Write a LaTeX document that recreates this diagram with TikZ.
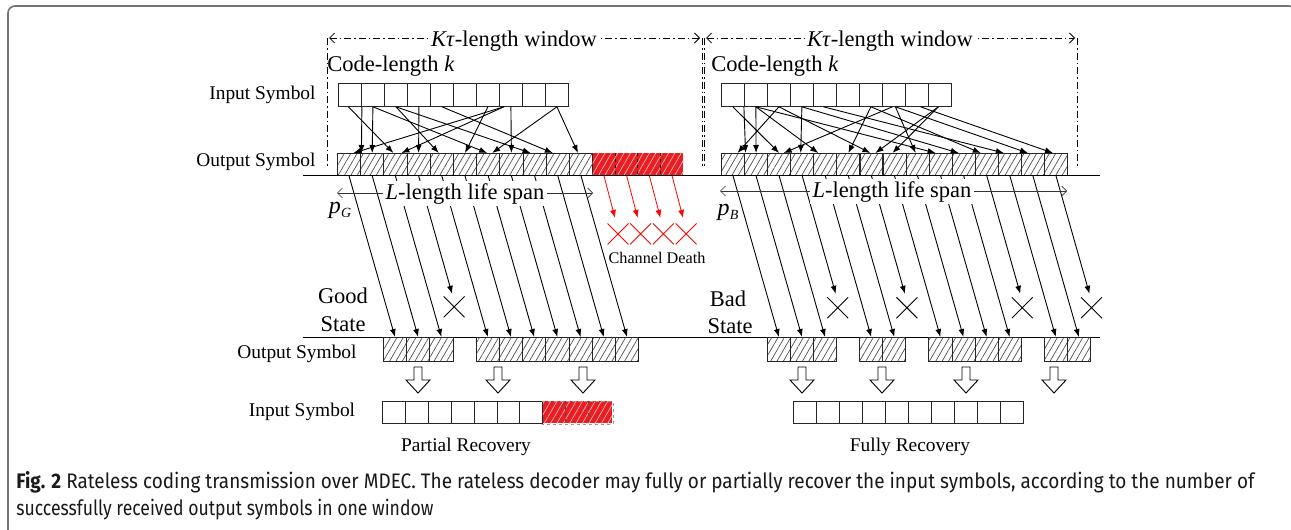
\documentclass[tikz,border=0pt]{standalone}
\usepackage{fontspec}
\setmainfont{Liberation Serif}
\newfontfamily\capfont{Fira Sans}
\usetikzlibrary{arrows.meta,patterns.meta,calc,shapes.misc}
\definecolor{redc}{RGB}{232,30,36}
\definecolor{hatchc}{RGB}{80,80,80}
\definecolor{framec}{RGB}{115,115,115}
\begin{document}
\begin{tikzpicture}[x=1pt,y=-1pt,line width=0.9pt,
  >={Latex[length=8pt,width=6pt]},
  lbl/.style={font=\fontsize{19.4}{22}\selectfont,inner sep=0},
  bigl/.style={font=\fontsize{22.5}{25}\selectfont,inner sep=0},
  capl/.style={anchor=base west,inner sep=0,text=black!90},
  insym/.style={draw=black!85,line width=0.8pt,minimum width=23pt,minimum height=23pt,inner sep=0,anchor=north west},
  outsym/.style={draw=black!85,line width=0.8pt,minimum width=23.2pt,minimum height=22pt,inner sep=0,anchor=north west,
     pattern={Lines[angle=60,distance=5.5pt,line width=0.7pt]},pattern color=hatchc},
  redsym/.style={fill=redc,minimum width=22.7pt,minimum height=22pt,inner sep=0,anchor=north west,
     postaction={pattern={Lines[angle=60,distance=5.5pt,line width=0.7pt]},pattern color=red!30!white}},
  xmark/.style={cross out,draw,line width=0.9pt,minimum size=20pt,inner sep=0},
  kwin/.style={line width=0.8pt,dash pattern=on 7pt off 3pt on 1.5pt off 3pt},
  barb/.style={{Straight Barb[length=5pt,width=10pt]}-{Straight Barb[length=5pt,width=10pt]}},
  hollow/.style={line width=0.9pt,fill=white}]
\useasboundingbox (0,0) rectangle (1291,530);
\fill[white] (0,0) rectangle (1291,530);
\draw[framec,line width=1.6pt,rounded corners=7pt] (8,535) -- (8,6) -- (1296,6) -- (1296,20);

% ---------- window frames ----------
\draw[kwin] (327,38) -- (327,168);
\draw[kwin] (702,38) -- (702,168);
\draw[kwin,barb] (329,38) -- (700,38);
\node[bigl,fill=white,inner sep=2pt,anchor=base] (ktl) at (514,46) {\textit{Kτ}-length window};
\draw[kwin] (704,38) -- (704,168);
\draw[kwin] (1077,38) -- (1077,168);
\draw[kwin,barb] (706,38) -- (1075,38);
\node[bigl,fill=white,inner sep=2pt,anchor=base] (ktr) at (890,46) {\textit{Kτ}-length window};
\node[bigl,anchor=base west] (cll) at (327,71) {Code-length \textit{k}};
\node[bigl,anchor=base west] (clr) at (711,71) {Code-length \textit{k}};

% ---------- labels left ----------
\node[lbl,anchor=base east] (il1) at (316,99) {Input Symbol};
\node[lbl,anchor=base east] (ol1) at (316,166) {Output Symbol};

% ---------- top boxes ----------
\foreach \i in {0,...,9} \node[insym] (inL\i) at ({338+23*\i},83) {};
\foreach \j in {0,...,10} \node[outsym] (outL\j) at ({337+23.2*\j},153) {};
\foreach \k in {0,...,3} \node[redsym] (redL\k) at ({592.2+22.7*\k},153) {};
\foreach \k in {1,2,3} \draw[dashed,line width=0.6pt] (redL\k.north west) -- (redL\k.south west);
\foreach \i in {0,...,9} \node[insym] (inR\i) at ({721+23*\i},83) {};
\foreach \j in {0,...,14} \node[outsym] (outR\j) at ({721+23.07*\j},153) {};

% ---------- encoding connections ----------
\foreach \a/\as/\b/\bs in {inL0/-1.5/outL2/-2, inL1/-11/outL1/-10.8, inL1/0/outL1/0, inL1/0/outL6/-1,
   inL2/0/outL4/-3, inL2/0/outL8/-4, inL3/0/outL3/0, inL4/0/outL9/-5, inL6/0/outL5/0,
   inL7/-7/outL0/4.5, inL7/-7/outL2/6, inL7/0/outL7/0, inL9/0/outL6/4, inL9/0/outL10/-3}
  \draw[->] ([xshift=\as pt]\a.south) -- ([xshift=\bs pt]\b.north);
\foreach \a/\as/\b/\bs in {inR0/0/outR2/0, inR1/-12/outR1/-10.5, inR1/0/outR1/0, inR1/0/outR9/-5,
   inR1/0/outR4/-7, inR2/0/outR0/4.5, inR2/0/outR6/-1, inR3/0/outR3/-1.5, inR3/0/outR10/-5,
   inR4/-1.5/outR12/-6, inR6/0/outR5/0, inR6/0/outR11/-6, inR7/-1.5/outR2/4.5, inR7/1.5/outR8/-2,
   inR7/1.5/outR13/-5, inR8/3.5/outR14/-3, inR9/-1.5/outR6/4, inR9/-1.5/outR7/-2}
  \draw[->] ([xshift=\as pt]\a.south) -- ([xshift=\bs pt]\b.north);

% ---------- channel lines ----------
\draw[line width=0.9pt] (303,175) -- (1100,175);
\draw[line width=0.9pt] (303,337) -- (1100,337);

% ---------- lower output boxes ----------
\foreach \j in {0,1,2,4,5,6,7,8,9,10} {
  \node[outsym,minimum height=24pt] (lowL\j) at ({383+23.2*\j},337) {};
  \draw[->] (outL\j.south) -- (lowL\j.north);
}
\foreach \j in {0,1,2,4,5,7,8,9,10,12,13} {
  \node[outsym,minimum width=23.07pt,minimum height=24pt] (lowR\j) at ({767+23.07*\j},337) {};
  \draw[->] (outR\j.south) -- (lowR\j.north);
}
\node[xmark] (xL3) at ($(outL3.south)+(35.5,131)$) {};
\draw[->] (outL3.south) -- ++(33.5,118);
\foreach \j in {3,6,11,14} {
  \node[xmark] (xR\j) at ($(outR\j.south)+(35.5,132)$) {};
  \draw[->] (outR\j.south) -- ++(33.5,118);
}
% red channel death
\foreach \k in {0,...,3} {
  \draw[->,red,line width=0.8pt] (redL\k.south) -- ++(11,42);
  \node[xmark,draw=red] (xd\k) at ($(redL\k.south)+(14,58)$) {};
}
\node[font=\fontsize{16.2}{18}\selectfont,inner sep=0,anchor=base] (cd) at (657,263) {Channel Death};

% ---------- life span ----------
\draw[barb,line width=0.7pt,black!80] (337,193) -- (593,193);
\node[bigl,fill=white,inner sep=2.5pt,anchor=base] (lsl) at (465,199) {\textit{L}-length life span};
\draw[barb,line width=0.7pt,black!80] (720,191) -- (1067,191);
\node[bigl,fill=white,inner sep=2.5pt,anchor=base] (lsr) at (892,197) {\textit{L}-length life span};
\node[inner sep=0,anchor=base] (pg) at (340,213) {\fontsize{24}{24}\selectfont\itshape p\kern0.3pt\raisebox{-4pt}{\fontsize{14}{14}\selectfont G}};
\node[inner sep=0,anchor=base] (pb) at (728,215) {\fontsize{24}{24}\selectfont\itshape p\kern0.3pt\raisebox{-4pt}{\fontsize{14}{14}\selectfont B}};

% ---------- states ----------
\node[bigl,anchor=base] (gs1) at (343,303) {Good};
\node[bigl,anchor=base] (gs2) at (343,331) {State};
\node[bigl,anchor=base] (bs1) at (728,306) {Bad};
\node[bigl,anchor=base] (bs2) at (730,333) {State};

% ---------- lower labels ----------
\node[lbl,anchor=base] (ol2) at (297,358) {Output Symbol};
\node[lbl,anchor=base] (il2) at (302,416) {Input Symbol};

% ---------- hollow arrows ----------
\foreach \c in {418,498,583,802,882,966,1054}
  \draw[hollow] ({\c-4},367) -- ({\c+4},367) -- ({\c+4},380) -- ({\c+12},380) -- (\c,393) -- ({\c-12},380) -- ({\c-4},380) -- cycle;

% ---------- recovered input symbols ----------
\foreach \i in {0,...,6} \node[insym,minimum width=22.9pt,minimum height=22pt] (botL\i) at ({382+22.9*\i},401) {};
\foreach \k in {0,1,2} \node[redsym,minimum width=23.2pt] (botRed\k) at ({542.3+23.2*\k},401) {};
\foreach \k in {1,2} \draw[dashed,line width=0.6pt,black!70] (botRed\k.north west) -- (botRed\k.south west);
\draw[dashed,line width=0.5pt,black!40] (botRed0.north west) -- (botRed2.north east) -- (botRed2.south east) -- (botRed0.south west);
\foreach \i in {0,...,9} \node[insym,minimum height=22pt] (botR\i) at ({793+23*\i},401) {};
\node[lbl,anchor=base] (pr) at (466,451) {Partial Recovery};
\node[lbl,anchor=base] (fr) at (910,451) {Fully Recovery};

% ---------- caption ----------
\node[capl] (cap1) at (16,488)
 {\resizebox{1238pt}{\height}{\capfont\fontsize{21}{27}\selectfont\textbf{Fig. 2} Rateless coding transmission over MDEC. The rateless decoder may fully or partially recover the input symbols, according to the number of}};
\node[capl] (cap2) at (16,515)
 {\resizebox{417pt}{\height}{\capfont\fontsize{21}{27}\selectfont successfully received output symbols in one window}};
\end{tikzpicture}
\end{document}
